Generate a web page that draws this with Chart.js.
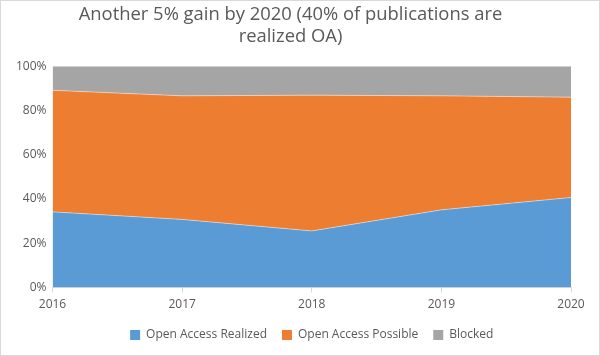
<!DOCTYPE html>
<html>
<head>
<meta charset="utf-8">
<script src="https://cdn.jsdelivr.net/npm/chart.js@4"></script>
<style>
  html, body { margin: 0; padding: 0; background: #fff; }
  #wrap { position: relative; width: 598px; height: 354px; border: 1px solid #d9d9d9; }
</style>
</head>
<body>
<div id="wrap"><canvas id="c" width="598" height="354"></canvas></div>
<script>
const categories = ["2016", "2017", "2018", "2019", "2020"];
const realized = [34.2, 30.8, 25.6, 35.1, 40.7];
const possible = [54.9, 55.8, 61.3, 51.5, 45.3];
const blocked = [10.9, 13.4, 13.1, 13.4, 14.0];
const yTicks = [0, 20, 40, 60, 80, 100];

const font = "'Open Sans', 'Noto Sans', sans-serif";
const mk = (label, data, color, fill) => ({
  label, data, backgroundColor: color, borderColor: 'rgba(255,255,255,0.45)',
  borderWidth: 1, fill, pointRadius: 0, tension: 0
});

new Chart(document.getElementById('c'), {
  type: 'line',
  data: {
    labels: categories,
    datasets: [
      mk('Open Access Realized', realized, '#5b9bd5', 'origin'),
      mk('Open Access Possible', possible, '#ed7d31', '-1'),
      mk('Blocked', blocked, '#a5a5a5', '-1')
    ]
  },
  options: {
    responsive: false,
    animation: false,
    layout: { padding: { left: 9, right: 28, top: 0, bottom: 4 } },
    plugins: {
      title: {
        display: true,
        text: ['Another 5% gain by 2020 (40% of publications are', 'realized OA)'],
        color: '#595959',
        font: { family: font, size: 18.4, weight: 'normal' },
        padding: { top: 3, bottom: 18 },
        lineHeight: 1.36
      },
      legend: {
        position: 'bottom',
        fullSize: false,
        labels: {
          color: '#595959',
          font: { family: font, size: 12 },
          boxWidth: 10, boxHeight: 10, padding: 15,
          generateLabels: (chart) => chart.data.datasets.map((d, i) => ({
            text: d.label, fillStyle: d.backgroundColor, strokeStyle: d.backgroundColor,
            lineWidth: 0, datasetIndex: i, fontColor: '#595959'
          }))
        }
      },
      tooltip: { enabled: false }
    },
    scales: {
      x: {
        offset: false,
        afterFit: (axis) => { axis.height -= 3; },
        ticks: { color: '#595959', font: { family: font, size: 12 }, padding: 5, maxRotation: 0 },
        grid: { drawOnChartArea: false, drawTicks: true, tickLength: 5, color: '#d9d9d9' },
        border: { color: '#d9d9d9' }
      },
      y: {
        stacked: true,
        min: 0, max: 100,
        afterBuildTicks: (axis) => { axis.ticks = yTicks.map(v => ({ value: v })); },
        ticks: { color: '#595959', font: { family: font, size: 12 }, callback: v => v + '%', padding: 6 },
        grid: { color: '#d9d9d9', drawTicks: false },
        border: { display: false }
      }
    }
  }
});
</script>
</body>
</html>
